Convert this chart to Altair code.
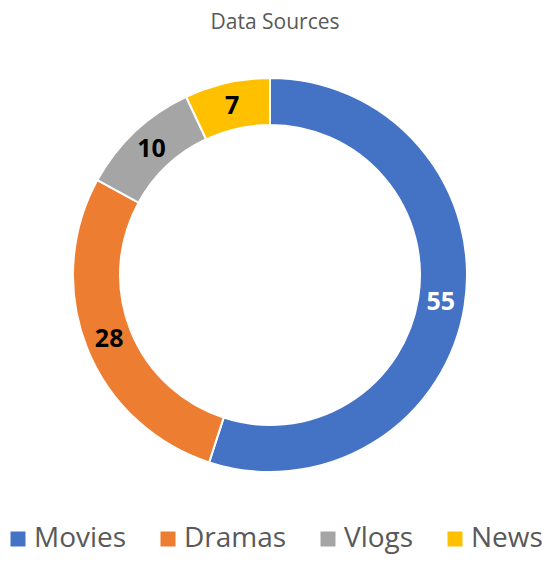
import altair as alt
import pandas as pd

categories = ["Movies", "Dramas", "Vlogs", "News"]
values = [55, 28, 10, 7]
colors = ["#4472C4", "#ED7D31", "#A5A5A5", "#FFC000"]

df = pd.DataFrame({"category": categories, "value": values, "idx": list(range(len(categories)))})

CX, CY = 262, 227
FONT = "Open Sans"

base = alt.Chart(df).encode(
    theta=alt.Theta("value:Q", stack=True),
    order=alt.Order("idx:Q"),
    x=alt.value(CX),
    y=alt.value(CY),
)

arcs = base.mark_arc(innerRadius=150, outerRadius=197, stroke="white", strokeWidth=2).encode(
    color=alt.Color(
        "category:N",
        scale=alt.Scale(domain=categories, range=colors),
        sort=categories,
        legend=alt.Legend(
            title=None,
            orient="none",
            direction="horizontal",
            legendX=-4,
            legendY=477,
            symbolType="square",
            symbolSize=225,
            symbolStrokeWidth=0,
            labelFontSize=28,
            labelFont=FONT,
            labelColor="#595959",
            labelOffset=2,
            columnPadding=27,
            padding=0,
            labelLimit=200,
        ),
    )
)

labels = base.mark_text(radius=173, fontSize=25, fontWeight="bold", font=FONT).encode(
    text=alt.Text("value:Q"),
    color=alt.condition(alt.datum.category == "Movies", alt.value("white"), alt.value("black")),
)

chart = alt.layer(arcs, labels).properties(
    width=534,
    height=507,
    autosize=alt.AutoSizeParams(type="none"),
    padding={"left": 0, "top": 40, "right": 0, "bottom": 0},
    title=alt.TitleParams(
        "Data Sources",
        font=FONT,
        fontSize=21,
        fontWeight="normal",
        color="#595959",
        anchor="middle",
        offset=15,
    ),
).configure_view(stroke=None)

chart.save("out.html", embed_options={"renderer": "svg", "actions": False})
